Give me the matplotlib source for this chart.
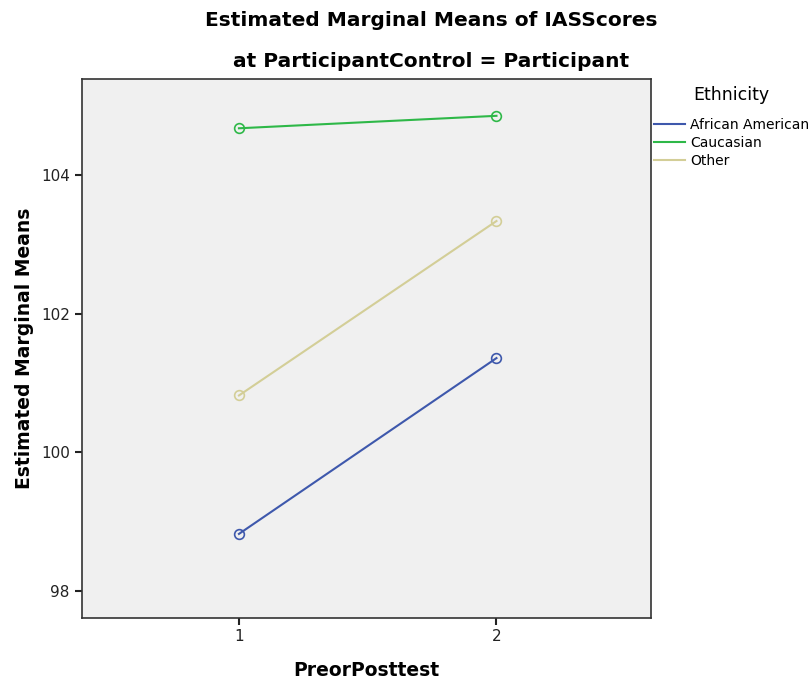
import numpy as np
import matplotlib
matplotlib.use('Agg')
import matplotlib.pyplot as plt

# data
test = [1, 2]
groups = ['African American', 'Caucasian', 'Other']
african_american = [98.82, 101.36]
caucasian = [104.68, 104.86]
other = [100.82, 103.34]
colors = ['#3e58ac', '#2eb848', '#d3ce97']

plt.rcParams['font.family'] = ['DejaVu Sans']

fig = plt.figure(figsize=(8.11, 6.81), dpi=100)
ax = fig.add_axes([0.1006, 0.093, 0.7021, 0.7908])
ax.set_facecolor('#f0f0f0')

lines = []
for vals, c, name in zip([african_american, caucasian, other], colors, groups):
    ax.plot(test, vals, color=c, lw=1.5, zorder=2)
    ax.plot(test, vals, 'o', mfc='none', mec=c, ms=7, mew=1.2, zorder=3)
    lines.append(plt.Line2D([], [], color=c, lw=1.5, label=name))

ax.set_xlim(0.389, 2.60)
ax.set_ylim(97.61, 105.39)
ax.set_xticks(test)
ax.set_yticks([98, 100, 102, 104])
ax.tick_params(labelsize=11, length=5, width=1.5, colors='#222222')
for s in ax.spines.values():
    s.set_linewidth(1.2)
    s.set_color('#333333')

ax.set_xlabel('PreorPosttest', fontsize=13.5, fontweight='bold', labelpad=12)
ax.set_ylabel('Estimated Marginal Means', fontsize=13.5, fontweight='bold', labelpad=5)

fig.text(0.532, 0.970, 'Estimated Marginal Means of IASScores', ha='center', va='center',
         fontsize=14.5, fontweight='bold')
fig.text(0.532, 0.909, 'at ParticipantControl = Participant', ha='center', va='center',
         fontsize=14.5, fontweight='bold')

leg = fig.legend(handles=lines, title='Ethnicity', loc='upper left',
                 bbox_to_anchor=(0.803, 0.878), frameon=False, fontsize=10,
                 title_fontsize=12.5, handlelength=2.2, handletextpad=0.4,
                 labelspacing=0.3, borderaxespad=0, borderpad=0.2)
leg._legend_box.align = 'center'
leg._legend_box.sep = 10

fig.savefig('out.png', dpi=100)
